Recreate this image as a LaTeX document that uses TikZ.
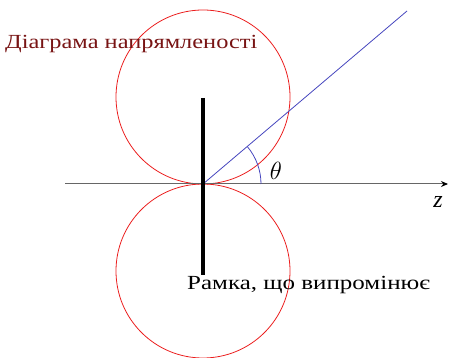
\documentclass[tikz,border=0pt]{standalone}
\usepackage{fontspec}
\setmainfont{Liberation Serif}
\usetikzlibrary{arrows.meta}
\definecolor{lobe}{RGB}{235,30,30}
\definecolor{ray}{RGB}{70,70,190}
\definecolor{lbl}{RGB}{120,20,20}
\tikzset{
  lobeline/.style={draw=lobe, line width=0.8pt},
  rayline/.style={draw=ray, line width=0.8pt},
  axisline/.style={draw=gray!80!black, line width=1pt, -{Stealth[length=7pt,width=6pt,color=black]}},
  loop/.style={draw=black, line width=4pt},
  caption/.style={anchor=west, inner sep=0pt, font=\fontsize{20}{22}\selectfont},
}
\begin{document}
\begin{tikzpicture}[x=1pt,y=-1pt]
\useasboundingbox (0,0) rectangle (453,358);
\coordinate (o) at (203,184);
\coordinate (axL) at (65,184);
\coordinate (axR) at (448,184);
\coordinate (rayEnd) at (407,11);
\coordinate (loopTop) at (203,98);
\coordinate (loopBot) at (203,275);
\node[lobeline, circle, minimum size=174pt, inner sep=0pt] (top) at (203,97) {};
\node[lobeline, circle, minimum size=174pt, inner sep=0pt] (bot) at (203,271) {};
\draw[axisline] (axL) -- (axR);
\draw[rayline] (o) -- (rayEnd);
\draw[rayline] (o) ++(-40:58) arc[start angle=-40, end angle=0, radius=58];
\draw[loop] (loopTop) -- (loopBot);
\node[font=\fontsize{24}{26}\selectfont] (theta) at (276,171) {$\theta$};
\node[font=\fontsize{24}{26}\selectfont\itshape] (z) at (438,202) {z};
\node[caption, text=lbl] (t1) at (5,44) {\scalebox{1.22}[1]{Діаграма напрямленості}};
\node[caption, text=black] (t2) at (187,285) {\scalebox{1.25}[1]{Рамка, що випромінює}};
\end{tikzpicture}
\end{document}
